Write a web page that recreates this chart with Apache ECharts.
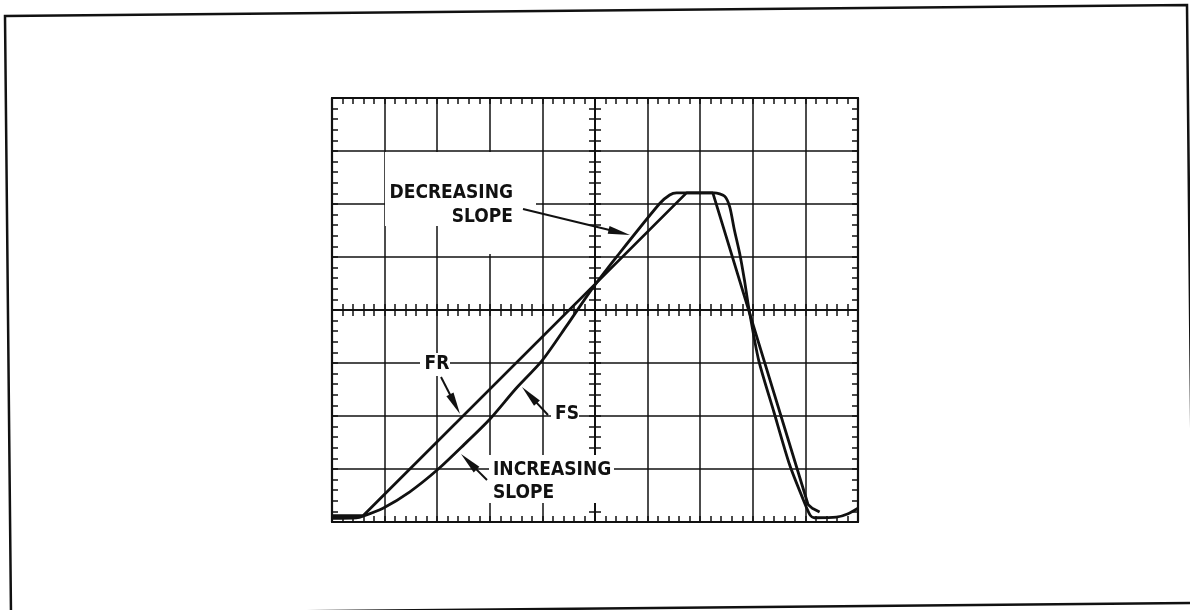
<!DOCTYPE html>
<html><head><meta charset="utf-8">
<script src="https://cdn.jsdelivr.net/npm/echarts@6/dist/echarts.min.js"></script>
<style>html,body{margin:0;padding:0;background:#fff}#c{width:1190px;height:610px}</style>
</head><body><div id="c"></div>
<script>
// Graticule: 10 x 8 divisions, centred on 0
const xRange = [-5, 5];
const yRange = [-4, 4];
// FR trace (divisions)
const frX = [-5.00, -4.41, 1.74, 2.24, 4.05, 4.13, 4.27];
const frY = [-3.88, -3.88, 2.21, 2.21, -3.67, -3.74, -3.81];
// FS trace (divisions)
const fsX = [-5.00, -4.54, -4.41, -4.03, -3.52, -2.99, -2.49, -2.00, -1.51, -1.01, -0.54, -0.07, 0.44, 1.23, 1.42, 1.55, 2.27, 2.46, 2.56, 2.65, 2.75, 2.84, 2.92, 3.11, 3.40, 3.70, 3.96, 4.09, 4.17, 4.59, 4.80, 5.00];
const fsY = [-3.93, -3.92, -3.89, -3.74, -3.43, -3.01, -2.54, -2.06, -1.49, -0.96, -0.30, 0.38, 1.04, 2.01, 2.17, 2.21, 2.21, 2.15, 1.95, 1.51, 1.07, 0.57, 0.06, -0.94, -1.92, -2.92, -3.58, -3.87, -3.92, -3.91, -3.85, -3.74];
const labels = ['DECREASING', 'SLOPE', 'FR', 'FS', 'INCREASING', 'SLOPE'];

const zip = (a, b) => a.map((v, i) => [v, b[i]]);
const chart = echarts.init(document.getElementById('c'), null, {renderer: 'canvas'});

const black = '#111';
function ax(range, pos, onZero, inside, split) {
  return {
    type: 'value', min: range[0], max: range[1], interval: 1, position: pos,
    axisLine: {show: true, onZero: onZero, onZeroAxisIndex: 0, lineStyle: {color: black, width: onZero ? 1.6 : 2.2}},
    axisTick: {show: true, inside: inside, length: 6, lineStyle: {color: black, width: 1.5}},
    minorTick: {show: true, splitNumber: 5, length: 6, lineStyle: {color: black, width: 1.5}},
    axisLabel: {show: false},
    splitLine: {show: split, lineStyle: {color: black, width: 1.5}},
    minorSplitLine: {show: false}
  };
}

const font = '"DejaVu Sans Condensed", "Liberation Sans Narrow", "Liberation Sans", Arial, sans-serif';
function txt(s, x, y, align) {
  return {type: 'text', z: 10, x: x, y: y, style: {text: s, fill: black, font: 'bold 19px ' + font, align: align, verticalAlign: 'middle'}};
}
function arrow(tx, ty, hx, hy) {
  const dx = hx - tx, dy = hy - ty, L = Math.hypot(dx, dy), ux = dx / L, uy = dy / L;
  const hl = 22, hw = 4;
  const bx = hx - ux * hl, by = hy - uy * hl;
  return [
    {type: 'line', z: 10, shape: {x1: tx, y1: ty, x2: bx + ux * 2, y2: by + uy * 2}, style: {stroke: black, lineWidth: 2}},
    {type: 'polygon', z: 10, shape: {points: [[hx, hy], [bx - uy * hw, by + ux * hw], [bx + uy * hw, by - ux * hw]]}, style: {fill: black}}
  ];
}
function wrect(x, y, w, h) {
  return {type: 'rect', z: 1, shape: {x: x, y: y, width: w, height: h}, style: {fill: '#fff'}};
}

const graphics = [
  {type: 'polygon', z: 10, shape: {points: [[5, 16], [1187, 5], [1193, 603], [11, 614]]}, style: {fill: null, stroke: black, lineWidth: 2.5}},
  wrect(385, 152, 151, 74), wrect(484, 226, 10, 28),
  wrect(420, 353, 30, 23),
  wrect(551, 404, 28, 20),
  wrect(489, 455, 125, 48),
  txt(labels[0], 513, 193, 'right'),
  txt(labels[1], 513, 217, 'right'),
  txt(labels[2], 437, 364, 'center'),
  txt(labels[3], 555, 414, 'left'),
  txt(labels[4], 493, 470, 'left'),
  txt(labels[5], 493, 493, 'left'),
  ...arrow(523, 209, 630, 235),
  ...arrow(441, 377, 460, 414),
  ...arrow(548, 415, 522, 387),
  ...arrow(487, 480, 461, 454)
];

chart.setOption({
  animation: false,
  backgroundColor: '#fff',
  grid: {left: 332, top: 98, width: 526, height: 424, containLabel: false, show: false},
  xAxis: [ax(xRange, 'bottom', false, true, true), ax(xRange, 'top', false, true, false), ax(xRange, 'bottom', true, true, false), ax(xRange, 'bottom', true, false, false)],
  yAxis: [ax(yRange, 'left', false, true, true), ax(yRange, 'right', false, true, false), ax(yRange, 'left', true, true, false), ax(yRange, 'left', true, false, false)],
  series: [
    {name: 'FR', type: 'line', data: zip(frX, frY), showSymbol: false, symbol: 'none', smooth: false, z: 3,
     lineStyle: {color: black, width: 2.8}, xAxisIndex: 0, yAxisIndex: 0},
    {name: 'FS', type: 'line', data: zip(fsX, fsY), showSymbol: false, symbol: 'none', smooth: 0.25, z: 3,
     lineStyle: {color: black, width: 2.8}, xAxisIndex: 0, yAxisIndex: 0}
  ],
  graphic: graphics
});
</script></body></html>
